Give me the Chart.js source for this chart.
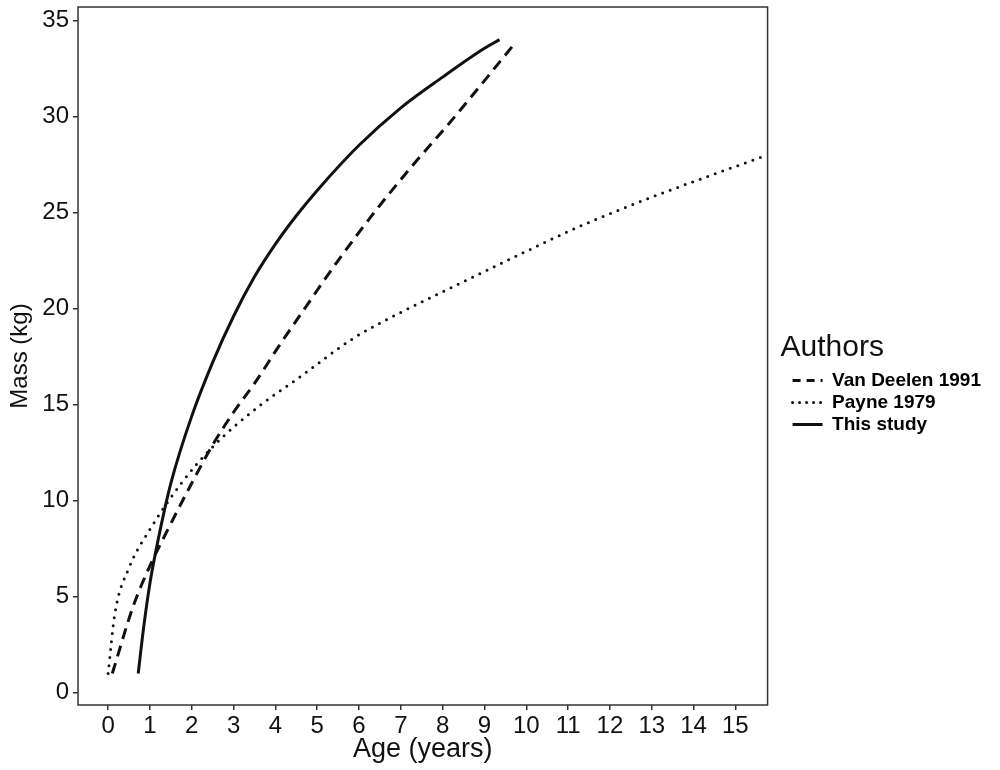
<!DOCTYPE html>
<html>
<head>
<meta charset="utf-8">
<script src="https://cdn.jsdelivr.net/npm/chart.js@4.4.1/dist/chart.umd.min.js"></script>
<style>
  html, body { margin: 0; padding: 0; background: #fff; }
  #wrap { width: 1000px; height: 770px; }
</style>
</head>
<body>
<div id="wrap"><canvas id="myChart" width="1000" height="770"></canvas></div>
<script>
// growth curves
const vanDeelenAge  = [0.1, 0.6, 1.0, 1.43, 1.95, 2.5, 3.0, 3.5, 4.1, 4.7, 5.5, 6.4, 7.3, 8.1, 8.9, 9.76];
const vanDeelenMass = [1.0, 4.5, 6.6, 8.5, 10.7, 12.9, 14.6, 16.1, 18.1, 20.0, 22.5, 25.1, 27.5, 29.5, 31.6, 33.9];

const payneAge  = [0.0, 0.16, 0.5, 1.0, 1.75, 2.5, 3.6, 4.5, 5.9, 7.0, 8.5, 10.5, 11.3, 13.0, 15.77];
const payneMass = [1.0, 4.1, 6.5, 8.5, 10.9, 12.8, 14.9, 16.3, 18.5, 19.8, 21.4, 23.5, 24.3, 25.8, 28.0];

const studyAge  = [0.72, 0.85, 1.0, 1.2, 1.5, 2.0, 2.5, 3.0, 3.5, 4.0, 4.5, 5.0, 6.0, 7.0, 8.0, 9.0, 9.36];
const studyMass = [1.0, 3.4, 5.7, 8.0, 10.9, 14.4, 17.2, 19.6, 21.65, 23.35, 24.83, 26.15, 28.5, 30.45, 32.05, 33.55, 34.0];

const seriesNames = ['Van Deelen 1991', 'Payne 1979', 'This study'];
const legendTitle = 'Authors';
const xTicks = [0, 1, 2, 3, 4, 5, 6, 7, 8, 9, 10, 11, 12, 13, 14, 15];
const yTicks = [0, 5, 10, 15, 20, 25, 30, 35];

const toPoints = (xs, ys) => xs.map((x, i) => ({ x: x, y: ys[i] }));

const ink = '#111';
const fontFam = "'Liberation Sans', Arial, sans-serif";

// box round the plotting panel
const frame = {
  id: 'frame',
  afterDatasetsDraw(chart) {
    const a = chart.chartArea;
    const c = chart.ctx;
    c.save();
    c.strokeStyle = '#333';
    c.lineWidth = 1.5;
    c.strokeRect(a.left, a.top, a.right - a.left, a.bottom - a.top);
    c.restore();
  }
};

// legend keys sit a bit off the panel, title above them and further left
const legendShift = {
  id: 'legendShift',
  afterLayout(chart) {
    const lg = chart.legend;
    lg.left += 22;
    lg.right += 22;
    lg.top += 14;
    lg.bottom += 14;
  },
  afterDraw(chart) {
    const c = chart.ctx;
    c.save();
    c.fillStyle = ink;
    c.font = '30px ' + fontFam;
    c.textAlign = 'left';
    c.textBaseline = 'middle';
    c.fillText(legendTitle, chart.chartArea.right + 13, 348);
    c.restore();
  }
};

const lineOpts = {
  borderColor: ink,
  borderWidth: 3,
  pointRadius: 0,
  fill: false,
  cubicInterpolationMode: 'monotone'
};

new Chart(document.getElementById('myChart'), {
  type: 'line',
  data: {
    datasets: [
      Object.assign({ label: seriesNames[0], data: toPoints(vanDeelenAge, vanDeelenMass), borderDash: [11, 7] }, lineOpts),
      Object.assign({ label: seriesNames[1], data: toPoints(payneAge, payneMass), borderDash: [0, 8], borderCapStyle: 'round' }, lineOpts),
      Object.assign({ label: seriesNames[2], data: toPoints(studyAge, studyMass) }, lineOpts)
    ]
  },
  options: {
    responsive: false,
    animation: false,
    layout: { padding: { top: 7, right: 31, left: 0, bottom: 0 } },
    plugins: {
      tooltip: { enabled: false },
      legend: {
        position: 'right',
        align: 'center',
        labels: {
          color: ink,
          font: { family: fontFam, size: 19, weight: 'bold' },
          usePointStyle: true,
          pointStyleWidth: 30,
          padding: 3,
          generateLabels(chart) {
            return chart.data.datasets.map((d, i) => ({
              text: d.label,
              datasetIndex: i,
              pointStyle: 'line',
              strokeStyle: ink,
              fillStyle: ink,
              lineWidth: 3,
              lineDash: i === 0 ? [8, 6] : (i === 1 ? [0, 7] : []),
              lineCap: i === 1 ? 'round' : 'butt'
            }));
          }
        }
      }
    },
    scales: {
      x: {
        type: 'linear',
        min: -0.72,
        max: 15.77,
        afterFit(s) { s.height = 65; s.paddingLeft = 0; s.paddingRight = 0; },
        afterBuildTicks(s) { s.ticks = xTicks.map(v => ({ value: v })); },
        border: { display: false },
        grid: { display: true, drawOnChartArea: false, drawTicks: true, tickLength: 5, color: '#333', lineWidth: 1.5 },
        ticks: { color: ink, font: { family: fontFam, size: 24 }, padding: 2, maxRotation: 0, autoSkip: false },
        title: { display: true, text: 'Age (years)', color: ink, font: { family: fontFam, size: 27 }, padding: { top: 0, bottom: 4 } }
      },
      y: {
        type: 'linear',
        min: -0.64,
        max: 35.7,
        afterFit(s) { s.width = 78; s.paddingTop = 0; s.paddingBottom = 0; },
        afterBuildTicks(s) { s.ticks = yTicks.map(v => ({ value: v })); },
        border: { display: false },
        grid: { display: true, drawOnChartArea: false, drawTicks: true, tickLength: 5, color: '#333', lineWidth: 1.5 },
        ticks: { color: ink, font: { family: fontFam, size: 24 }, padding: 4 },
        title: { display: true, text: 'Mass (kg)', color: ink, font: { family: fontFam, size: 24 }, padding: { top: 6, bottom: 2 } }
      }
    }
  },
  plugins: [frame, legendShift]
});
</script>
</body>
</html>
